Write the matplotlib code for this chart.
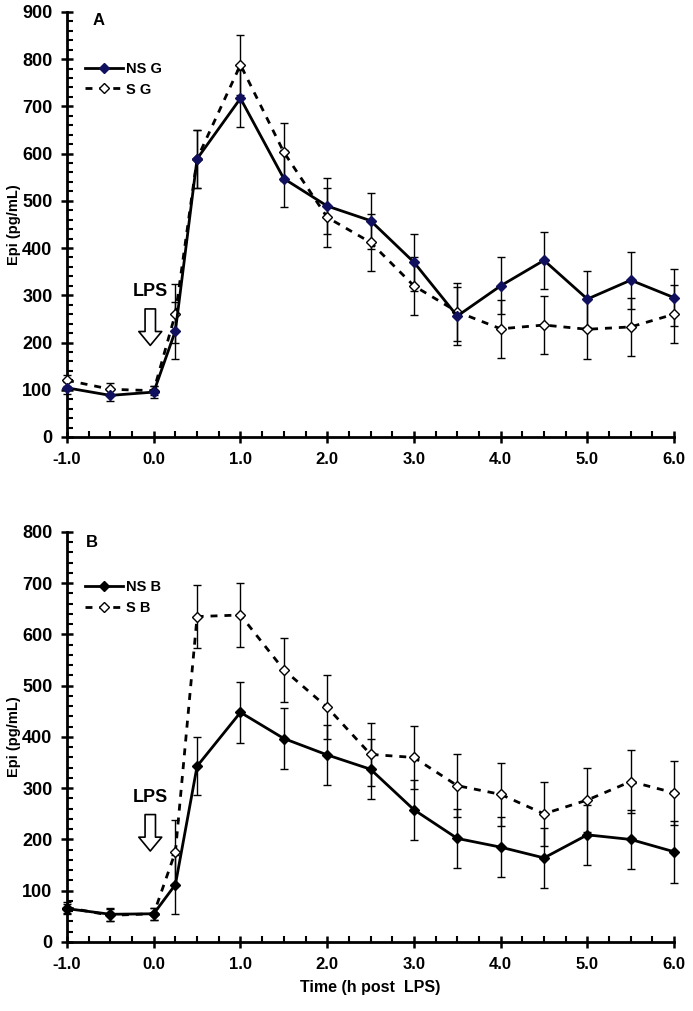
import matplotlib.pyplot as plt
from matplotlib.ticker import MultipleLocator

plt.rcParams["font.family"] = ["Liberation Sans", "DejaVu Sans"]
plt.rcParams["font.weight"] = "bold"

time_h = [-1.0, -0.5, 0.0, 0.25, 0.5, 1.0, 1.5, 2.0, 2.5, 3.0, 3.5, 4.0, 4.5, 5.0, 5.5, 6.0]

# panel A (G)
ns_g = [104, 88, 95, 225, 589, 717, 547, 489, 458, 370, 256, 320, 374, 292, 332, 295]
ns_g_err = [12, 11, 12, 60, 61, 60, 60, 60, 59, 60, 61, 60, 60, 60, 60, 61]
s_g = [120, 101, 98, 261, 589, 788, 603, 465, 412, 320, 265, 229, 237, 228, 233, 260]
s_g_err = [12, 13, 10, 62, 61, 63, 62, 62, 61, 61, 62, 62, 62, 63, 62, 62]

# panel B (B)
ns_b = [65, 54, 55, 112, 343, 448, 397, 365, 337, 258, 202, 185, 164, 209, 200, 176]
ns_b_err = [10, 13, 12, 58, 57, 59, 59, 58, 59, 59, 58, 58, 59, 59, 58, 60]
s_b = [67, 52, 55, 176, 635, 638, 531, 458, 366, 360, 305, 288, 250, 277, 313, 291]
s_b_err = [10, 12, 12, 62, 62, 62, 62, 62, 62, 62, 61, 62, 62, 62, 62, 62]


def draw_panel(ax, ns, ns_err, s, s_err, ns_color, labels, ymax, letter, letter_x, letter_y, lps_y, arrow):
    for yv, err in ((s, s_err), (ns, ns_err)):
        eb = ax.errorbar(time_h, yv, yerr=err, fmt="none", ecolor="black", elinewidth=1,
                         capsize=3, capthick=1, zorder=2)
        for art in eb.lines[1] + eb.lines[2]:
            art.set_clip_on(False)
    s_line, = ax.plot(time_h, s, color="black", lw=2, dashes=(2.5, 2.5), marker="D", ms=5.5,
                      mfc="white", mec="black", mew=1, label=labels[1], zorder=3, clip_on=False)
    ns_line, = ax.plot(time_h, ns, color="black", lw=2, marker="D", ms=5.5,
                       mfc=ns_color, mec=ns_color, label=labels[0], zorder=4, clip_on=False)

    ax.set_xlim(-1.0, 6.0)
    ax.set_ylim(0, ymax)
    ax.xaxis.set_minor_locator(MultipleLocator(0.25))
    ax.yaxis.set_major_locator(MultipleLocator(100))
    ax.yaxis.set_minor_locator(MultipleLocator(20))
    ax.set_xticks(range(-1, 7))
    ax.set_xticklabels([f"{v:.1f}" for v in range(-1, 7)])
    ax.tick_params(which="major", direction="inout", length=9, width=1.8, pad=6)
    ax.tick_params(axis="x", which="major", labelsize=12)
    ax.tick_params(axis="y", which="major", labelsize=13)
    ax.tick_params(which="minor", direction="in", length=4, width=1.5)
    for lab in ax.get_xticklabels() + ax.get_yticklabels():
        lab.set_fontweight("bold")
    for side in ("top", "right"):
        ax.spines[side].set_visible(False)
    for side in ("left", "bottom"):
        ax.spines[side].set_linewidth(2)
    ax.set_ylabel("Epi (pg/mL)", fontsize=10.5, fontweight="bold", labelpad=1)

    ax.text(letter_x, letter_y, letter, fontsize=12, fontweight="bold", ha="center", va="center")
    ax.text(-0.04, lps_y, "LPS", fontsize=13, fontweight="bold", ha="center", va="center")
    ax.annotate("", xy=(-0.04, arrow[1]), xytext=(-0.04, arrow[0]),
                arrowprops=dict(arrowstyle="simple,head_width=1.65,head_length=1.0,tail_width=0.75",
                                mutation_scale=10, fc="white", ec="black", lw=1.2))

    leg = ax.legend(handles=[ns_line, s_line], loc="upper left", bbox_to_anchor=(0.02, 0.896),
                    frameon=False, fontsize=10.5, handlelength=2.6, handletextpad=0.2,
                    labelspacing=0.45, borderaxespad=0)
    for t in leg.get_texts():
        t.set_fontweight("bold")


fig = plt.figure(figsize=(6.93, 10.11), dpi=100)
ax_a = fig.add_axes([0.0967, 0.5678, 0.876, 0.4204])
ax_b = fig.add_axes([0.0967, 0.0683, 0.876, 0.4055])

draw_panel(ax_a, ns_g, ns_g_err, s_g, s_g_err, "#10105e", ["NS G", "S G"], 900,
           "A", -0.64, 881, 307, (277, 188))
draw_panel(ax_b, ns_b, ns_b_err, s_b, s_b_err, "black", ["NS B", "S B"], 800,
           "B", -0.71, 780, 281, (254, 172))
ax_b.set_xlabel("Time (h post  LPS)", fontsize=11.5, fontweight="bold", labelpad=6)

fig.savefig("out.png", dpi=100)
